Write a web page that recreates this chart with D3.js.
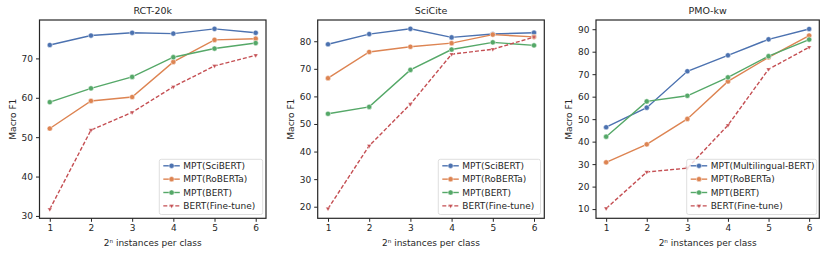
<!DOCTYPE html>
<html>
<head>
<meta charset="utf-8">
<script src="https://cdn.jsdelivr.net/npm/d3@7"></script>
<style>
  html, body { margin: 0; padding: 0; background: #fff; }
  svg { display: block; font-family: "DejaVu Sans", sans-serif; }
</style>
</head>
<body>
<svg id="chart" width="830" height="256"></svg>
<script>
// ---- data ----
const xValues = [1, 2, 3, 4, 5, 6];
const panelTitles = ["RCT-20k", "SciCite", "PMO-kw"];

const rctSciBERT   = [73.4, 75.8, 76.5, 76.3, 77.5, 76.5];
const rctRoBERTa   = [52.2, 59.2, 60.2, 69.1, 74.7, 75.0];
const rctBERT      = [58.9, 62.4, 65.3, 70.3, 72.5, 73.9];
const rctFineTune  = [31.7, 51.8, 56.3, 62.8, 68.1, 70.8];

const sciSciBERT   = [78.9, 82.6, 84.5, 81.4, 82.6, 83.1];
const sciRoBERTa   = [66.6, 76.1, 78.0, 79.3, 82.4, 81.6];
const sciBERT      = [53.7, 56.2, 69.6, 77.0, 79.6, 78.5];
const sciFineTune  = [19.3, 42.1, 57.2, 75.3, 77.1, 81.5];

const pmoMultiBERT = [46.4, 55.1, 71.3, 78.4, 85.5, 90.1];
const pmoRoBERTa   = [30.8, 38.8, 50.1, 66.8, 77.5, 87.2];
const pmoBERT      = [42.2, 57.9, 60.4, 68.6, 78.0, 85.4];
const pmoFineTune  = [10.3, 26.5, 28.2, 47.3, 72.2, 82.0];

const legendRct = ["MPT(SciBERT)", "MPT(RoBERTa)", "MPT(BERT)", "BERT(Fine-tune)"];
const legendSci = ["MPT(SciBERT)", "MPT(RoBERTa)", "MPT(BERT)", "BERT(Fine-tune)"];
const legendPmo = ["MPT(Multilingual-BERT)", "MPT(RoBERTa)", "MPT(BERT)", "BERT(Fine-tune)"];

const yTicksRct = [30, 40, 50, 60, 70];
const yTicksSci = [20, 30, 40, 50, 60, 70, 80];
const yTicksPmo = [10, 20, 30, 40, 50, 60, 70, 80, 90];
const yDomainRct = [29.4, 79.75];
const yDomainSci = [15.8, 87.7];
const yDomainPmo = [5.9, 94.1];
const xDomain = [0.75, 6.25];

const xLabel = "2ⁿ instances per class";
const yLabel = "Macro F1";

// ---- styles ----
const colors = ["#4c72b0", "#dd8452", "#55a868", "#c44e52"];
const textColor = "#262626";

const panels = [
  { title: panelTitles[0], series: [rctSciBERT, rctRoBERTa, rctBERT, rctFineTune], legend: legendRct,
    yTicks: yTicksRct, yDomain: yDomainRct, left: 39.5, right: 266, legLeft: 159.3, legRight: 262.7 },
  { title: panelTitles[1], series: [sciSciBERT, sciRoBERTa, sciBERT, sciFineTune], legend: legendSci,
    yTicks: yTicksSci, yDomain: yDomainSci, left: 317.7, right: 544.3, legLeft: 438.3, legRight: 540.5 },
  { title: panelTitles[2], series: [pmoMultiBERT, pmoRoBERTa, pmoBERT, pmoFineTune], legend: legendPmo,
    yTicks: yTicksPmo, yDomain: yDomainPmo, left: 596, right: 819.3, legLeft: 686.7, legRight: 816.7 }
];
const plotTop = 20, plotBottom = 218.3;

const svg = d3.select("#chart");

function marker(g, i, x, y, c) {
  if (i === 3) {
    g.append("path")
      .attr("d", d3.symbol().type(d3.symbolTriangle).size(9)())
      .attr("transform", `translate(${x},${y}) rotate(180)`)
      .attr("fill", c).attr("stroke", "#fff").attr("stroke-width", 0.4);
  } else {
    g.append("circle").attr("cx", x).attr("cy", y).attr("r", 2.6)
      .attr("fill", c).attr("stroke", "#fff").attr("stroke-width", 0.5);
  }
}

panels.forEach((p) => {
  const g = svg.append("g");
  const x = d3.scaleLinear().domain(xDomain).range([p.left, p.right]);
  const y = d3.scaleLinear().domain(p.yDomain).range([plotBottom, plotTop]);

  // axes
  const xAxis = d3.axisBottom(x).tickValues(xValues).tickFormat(d3.format("d")).tickSize(3.5).tickPadding(3);
  const gx = g.append("g").attr("transform", `translate(0,${plotBottom})`).call(xAxis);
  const yAxis = d3.axisLeft(y).tickValues(p.yTicks).tickFormat(d3.format("d")).tickSize(3.5).tickPadding(3);
  const gy = g.append("g").attr("transform", `translate(${p.left},0)`).call(yAxis);
  [gx, gy].forEach(a => {
    a.select(".domain").remove();
    a.selectAll(".tick line").attr("stroke", textColor).attr("stroke-width", 1);
    a.selectAll(".tick text").attr("fill", textColor).attr("font-size", 9)
      .attr("font-family", "DejaVu Sans");
  });

  // lines
  const clip = "clip" + p.left.toFixed(0);
  g.append("clipPath").attr("id", clip).append("rect")
    .attr("x", p.left).attr("y", plotTop).attr("width", p.right - p.left).attr("height", plotBottom - plotTop);
  const plot = g.append("g").attr("clip-path", `url(#${clip})`);
  const line = d3.line().x((d, i) => x(xValues[i])).y(d => y(d));
  p.series.forEach((s, i) => {
    plot.append("path").datum(s).attr("d", line).attr("fill", "none")
      .attr("stroke", colors[i]).attr("stroke-width", 1.4)
      .attr("stroke-dasharray", i === 3 ? "4,2" : null);
  });
  p.series.forEach((s, i) => {
    s.forEach((v, j) => marker(plot, i, x(xValues[j]), y(v), colors[i]));
  });

  // frame
  g.append("rect").attr("x", p.left).attr("y", plotTop)
    .attr("width", p.right - p.left).attr("height", plotBottom - plotTop)
    .attr("fill", "none").attr("stroke", textColor).attr("stroke-width", 1.2);

  // title
  g.append("text").attr("x", (p.left + p.right) / 2).attr("y", 14)
    .attr("text-anchor", "middle").attr("font-size", 9.5).attr("fill", textColor).text(p.title);
  // x label
  g.append("text").attr("x", (p.left + p.right) / 2).attr("y", 246)
    .attr("text-anchor", "middle").attr("font-size", 9).attr("fill", textColor).text(xLabel);
  // y label
  g.append("text").attr("transform", `translate(${p.left - 24},${(plotTop + plotBottom) / 2}) rotate(-90)`)
    .attr("text-anchor", "middle").attr("font-size", 9).attr("fill", textColor).text(yLabel);

  // legend
  const lt = 159.3, lb = 214.5;
  const lg = g.append("g");
  lg.append("rect").attr("x", p.legLeft).attr("y", lt)
    .attr("width", p.legRight - p.legLeft).attr("height", lb - lt)
    .attr("rx", 2).attr("fill", "#fff").attr("fill-opacity", 0.8)
    .attr("stroke", "#d6d6d6").attr("stroke-width", 0.8);
  p.legend.forEach((name, i) => {
    const ry = 165.8 + i * 13.35;
    lg.append("line").attr("x1", p.legLeft + 4).attr("x2", p.legLeft + 20.5)
      .attr("y1", ry).attr("y2", ry).attr("stroke", colors[i]).attr("stroke-width", 1.4)
      .attr("stroke-dasharray", i === 3 ? "4,2" : null);
    marker(lg, i, p.legLeft + 12.3, ry, colors[i]);
    lg.append("text").attr("x", p.legLeft + 24).attr("y", ry + 3.3)
      .attr("font-size", 9).attr("fill", textColor).text(name);
  });
});
</script>
</body>
</html>
